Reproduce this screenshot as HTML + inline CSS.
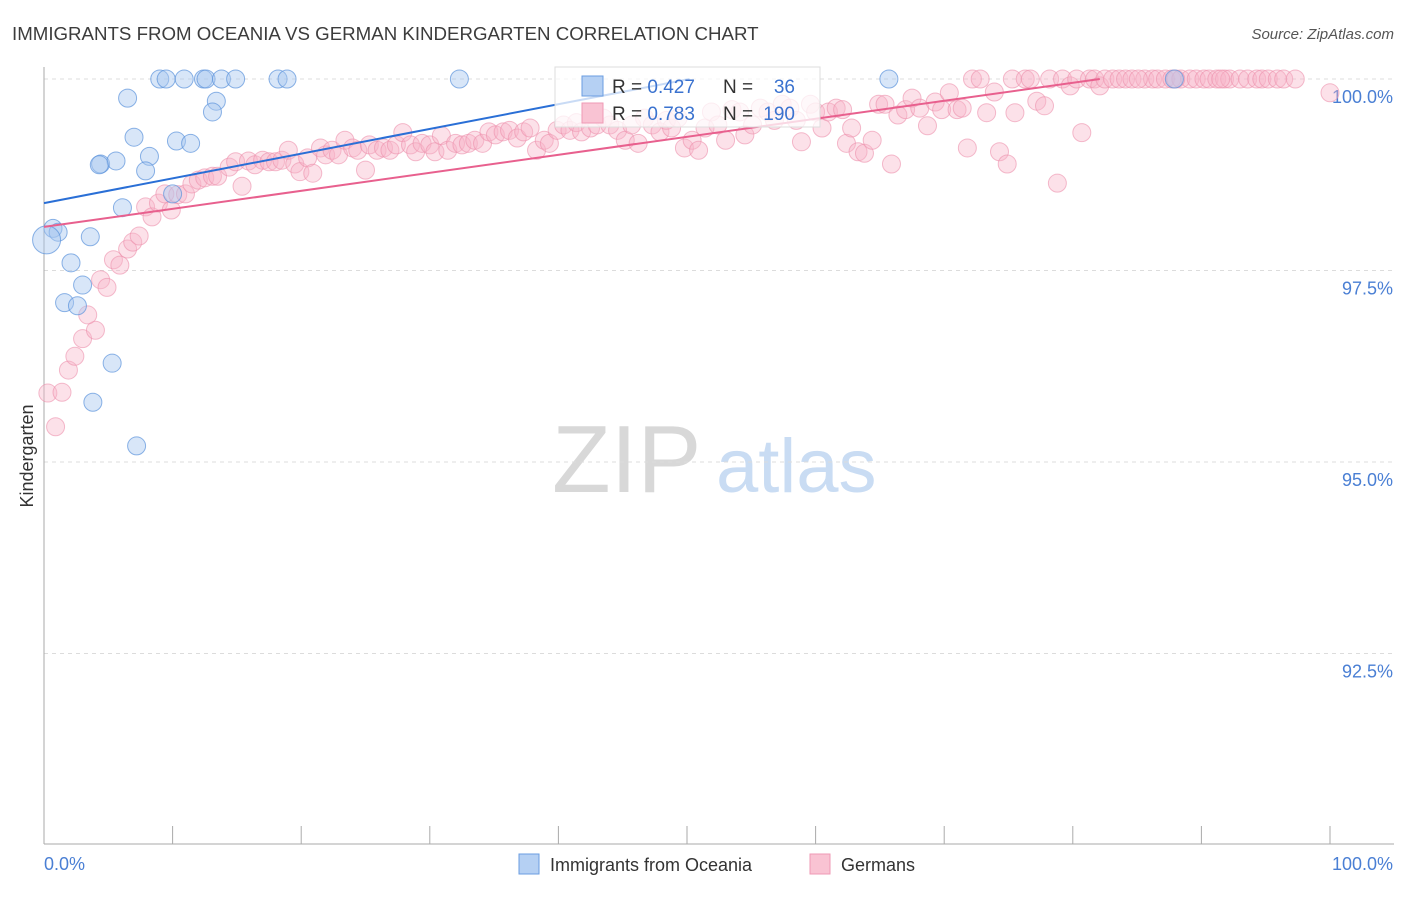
<!DOCTYPE html>
<html><head><meta charset="utf-8"><style>
body{margin:0;background:#fff;font-family:"Liberation Sans",sans-serif;}
svg text{font-family:"Liberation Sans",sans-serif;}
</style></head><body>
<svg id="chart" width="1406" height="892" viewBox="0 0 1406 892" xmlns="http://www.w3.org/2000/svg">
<text x="12" y="40" font-size="18.7" fill="#3c3c3c">IMMIGRANTS FROM OCEANIA VS GERMAN KINDERGARTEN CORRELATION CHART</text>
<text x="1394" y="39" font-size="15" fill="#555" text-anchor="end" font-style="italic">Source: ZipAtlas.com</text>
<g>
<text x="552" y="492" font-size="96" fill="#d8d8d8" font-family="Liberation Serif,serif">ZIP</text>
<text x="716" y="492" font-size="76" fill="#c9dcf3">atlas</text>
</g>
<g id="grid"></g>
<g id="axes"></g>
<g id="marks"></g>
<g id="lines"></g>
<text transform="translate(33,456) rotate(-90)" font-size="18" fill="#333" text-anchor="middle">Kindergarten</text>
<text x="44" y="870" font-size="18" fill="#4a7fd4">0.0%</text>
<text x="1393" y="870" font-size="18" fill="#4a7fd4" text-anchor="end">100.0%</text>
<g>
<rect x="555" y="67" width="265" height="60" fill="#fff" fill-opacity="0.75" stroke="#ddd"/>
<rect x="582" y="76" width="21" height="20" fill="#b5d0f3" stroke="#6a9de0"/>
<rect x="582" y="103" width="21" height="20" fill="#f9c3d3" stroke="#ef9ab5"/>
<text x="612" y="93" font-size="19" fill="#333">R = <tspan fill="#3a72cf">0.427</tspan></text>
<text x="723" y="93" font-size="19" fill="#333">N =</text>
<text x="795" y="93" font-size="19" fill="#3a72cf" text-anchor="end">36</text>
<text x="612" y="120" font-size="19" fill="#333">R = <tspan fill="#3a72cf">0.783</tspan></text>
<text x="723" y="120" font-size="19" fill="#333">N =</text>
<text x="795" y="120" font-size="19" fill="#3a72cf" text-anchor="end">190</text>
</g>
<g>
<rect x="519" y="854" width="20" height="20" fill="#b5d0f3" stroke="#6a9de0"/>
<text x="550" y="871" font-size="18" fill="#333">Immigrants from Oceania</text>
<rect x="810" y="854" width="20" height="20" fill="#f9c3d3" stroke="#ef9ab5"/>
<text x="841" y="871" font-size="18" fill="#333">Germans</text>
</g>
</svg>
<script>
const yTicks=[100,97.5,95,92.5];
const yTickLabels=["100.0%","97.5%","95.0%","92.5%"];
const xTicks=[0,10,20,30,40,50,60,70,80,90,100];
const oceaniaX=[9.0,9.5,10.9,12.4,12.6,13.8,14.9,18.2,18.9,32.3,65.7,87.9,6.5,13.4,13.1,7.0,10.3,11.4,8.2,4.4,5.6,4.3,7.9,10.0,6.1,0.7,1.1,0.2,3.6,2.1,3.0,1.6,2.6,5.3,3.8,7.2];
const oceaniaY=[100,100,100,100,100,100,100,100,100,100,100,100,99.75,99.71,99.57,99.24,99.19,99.16,98.99,98.89,98.93,98.88,98.80,98.50,98.32,98.05,98.0,97.9,97.94,97.6,97.31,97.08,97.04,96.29,95.78,95.21];
const germansX=[0.3,0.9,1.4,1.9,2.4,3.0,4.0,3.4,4.4,4.9,5.4,5.9,6.5,6.9,7.4,7.9,8.4,8.9,9.4,9.9,10.4,11.0,11.5,12.0,12.5,13.1,13.5,14.4,14.9,15.4,15.9,16.4,17.0,17.5,18.0,18.5,19.0,19.5,19.9,20.5,20.9,21.5,21.9,22.4,22.9,23.4,24.0,24.4,25.0,25.3,25.9,26.4,26.9,27.4,27.9,28.5,28.9,29.4,30.0,30.4,30.9,31.4,32.0,32.5,33.0,33.5,34.1,34.6,35.1,35.7,36.2,36.8,37.3,37.8,38.3,38.9,39.3,39.9,40.4,40.9,41.4,41.8,42.5,43.0,43.5,44.0,44.6,45.2,45.7,46.2,46.7,47.3,47.9,48.4,48.8,49.3,49.8,50.4,50.9,51.4,51.9,52.4,53.0,53.5,54.1,54.5,55.1,55.7,56.3,56.8,57.4,58.0,58.5,58.9,59.6,60.0,60.5,61.0,61.6,62.1,62.4,62.8,63.3,63.8,64.4,64.9,65.4,65.9,66.4,67.0,67.5,68.1,68.7,69.3,69.8,70.4,71.0,71.4,71.8,72.2,72.8,73.3,73.9,74.3,74.9,75.3,75.5,76.3,76.7,77.2,77.8,78.2,78.8,79.2,79.8,80.3,80.7,81.3,81.7,82.1,82.5,83.1,83.6,84.1,84.6,85.6,86.2,86.6,87.2,87.7,88.4,89.1,89.6,90.2,90.6,91.2,91.8,92.2,93.0,93.6,94.3,94.7,95.2,95.9,96.4,97.3,85.1,88.0,91.5,100];
const germansY=[95.90,95.46,95.91,96.20,96.38,96.61,96.72,96.92,97.38,97.28,97.64,97.57,97.78,97.87,97.95,98.33,98.20,98.38,98.50,98.29,98.49,98.50,98.63,98.68,98.71,98.73,98.73,98.85,98.92,98.60,98.93,98.88,98.94,98.92,98.92,98.94,99.07,98.89,98.79,98.97,98.77,99.10,99.01,99.07,99.01,99.20,99.10,99.07,98.81,99.14,99.07,99.10,99.07,99.14,99.30,99.14,99.05,99.16,99.14,99.05,99.26,99.07,99.16,99.14,99.16,99.20,99.16,99.31,99.27,99.31,99.33,99.23,99.31,99.36,99.07,99.20,99.16,99.33,99.40,99.33,99.43,99.31,99.36,99.40,99.49,99.40,99.33,99.20,99.40,99.16,99.49,99.40,99.31,99.46,99.36,99.49,99.10,99.20,99.07,99.36,99.57,99.40,99.20,99.60,99.57,99.27,99.40,99.62,99.57,99.46,99.67,99.62,99.46,99.18,99.67,99.57,99.36,99.57,99.62,99.60,99.16,99.36,99.05,99.03,99.20,99.67,99.67,98.89,99.53,99.60,99.75,99.62,99.39,99.70,99.60,99.82,99.60,99.62,99.10,100,100,99.56,99.83,99.05,98.89,100,99.56,100,100,99.71,99.65,100,98.64,100,99.91,100,99.30,100,100,99.91,100,100,100,100,100,100,100,100,100,100,100,100,100,100,100,100,100,100,100,100,100,100,100,100,100,100,100,100,100,99.82];
const oceaniaLineX=[0,50.2];
const oceaniaLineY=[98.38,100];
const germansLineX=[0,82.1];
const germansLineY=[98.07,100];

const NS="http://www.w3.org/2000/svg";
const X0=44,X1=1330,YTOP=79,PX_PER_PCT=76.6;
function sx(v){return X0+(X1-X0)*v/100;}
function sy(v){return YTOP+(100-v)*PX_PER_PCT;}
function mk(tag,attrs,parent){const e=document.createElementNS(NS,tag);for(const k in attrs)e.setAttribute(k,attrs[k]);parent.appendChild(e);return e;}
const grid=document.getElementById('grid'),axes=document.getElementById('axes'),marks=document.getElementById('marks'),lines=document.getElementById('lines');
yTicks.forEach((t,i)=>{
  const l=mk('line',{x1:44,x2:1394,y1:sy(t),y2:sy(t),stroke:'#dcdcdc','stroke-dasharray':'4,4'},grid);
  
  
  const tx=mk('text',{x:1393,y:sy(t)+24,'font-size':18,fill:'#4a7fd4','text-anchor':'end'},grid);
  tx.textContent=yTickLabels[i];
  
  
});
const ya=mk('line',{x1:44,x2:44,y1:67,y2:844,stroke:'#aaa'},axes);


const xa=mk('line',{x1:44,x2:1394,y1:844,y2:844,stroke:'#aaa'},axes);


xTicks.forEach(t=>{
  const l=mk('line',{x1:sx(t),x2:sx(t),y1:826,y2:844,stroke:'#aaa'},axes);
  
  
});
germansX.forEach((x,i)=>{
  const c=mk('circle',{cx:sx(x),cy:sy(germansY[i]),r:9,fill:'#f7b3c7','fill-opacity':0.4,stroke:'#ec8fac','stroke-opacity':0.6,'stroke-width':1},marks);
  
  
});
oceaniaX.forEach((x,i)=>{
  const r=(i===27)?14:9;
  const c=mk('circle',{cx:sx(x),cy:sy(oceaniaY[i]),r:r,fill:'#a9c8f0','fill-opacity':0.45,stroke:'#5b93db','stroke-opacity':0.7,'stroke-width':1},marks);
  
  
});
const bl=mk('line',{x1:sx(oceaniaLineX[0]),y1:sy(oceaniaLineY[0]),x2:sx(oceaniaLineX[1]),y2:sy(oceaniaLineY[1]),stroke:'#2a6fd6','stroke-width':2},lines);


const pl=mk('line',{x1:sx(germansLineX[0]),y1:sy(germansLineY[0]),x2:sx(germansLineX[1]),y2:sy(germansLineY[1]),stroke:'#e8608e','stroke-width':2},lines);


</script>
</body></html>
